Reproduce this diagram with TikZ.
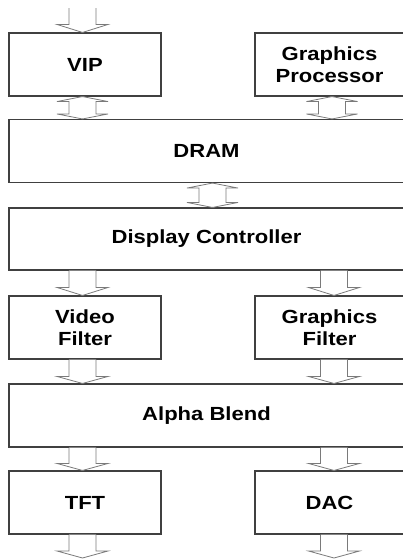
\documentclass[tikz,border=0pt]{standalone}
\usepackage{fontspec}
\newfontfamily\lblfont{Liberation Sans Bold}[FakeStretch=1.16]
\usetikzlibrary{calc}
\definecolor{boxline}{HTML}{404040}
\definecolor{arrline}{HTML}{7A7A7A}
\tikzset{
  box/.style={draw=boxline, line width=1.1pt, fill=white, rectangle,
    minimum height=63pt, inner sep=0pt, align=center,
    font=\lblfont\fontsize{19}{22.5}\selectfont},
  narrow/.style={box, minimum width=152pt},
  wide/.style={box, minimum width=395pt},
  fat/.style={draw=arrline, line width=0.8pt, fill=white, line join=miter}
}
% #1 x, #2 from anchor, #3 to anchor, #4 head height
\newcommand\fatdown[4]{%
  \draw[fat] let \p1=(#2), \p2=(#3) in
    (#1pt-13.5pt,\y1) -- (#1pt-13.5pt,\y2+#4pt) -- (#1pt-25.5pt,\y2+#4pt) --
    (#1pt,\y2) -- (#1pt+25.5pt,\y2+#4pt) -- (#1pt+13.5pt,\y2+#4pt) -- (#1pt+13.5pt,\y1);}
\newcommand\fatboth[4]{%
  \draw[fat] let \p1=(#2), \p2=(#3) in
    (#1pt,\y1) -- (#1pt-25.5pt,\y1-#4pt) -- (#1pt-13.5pt,\y1-#4pt) --
    (#1pt-13.5pt,\y2+#4pt) -- (#1pt-25.5pt,\y2+#4pt) -- (#1pt,\y2) --
    (#1pt+25.5pt,\y2+#4pt) -- (#1pt+13.5pt,\y2+#4pt) -- (#1pt+13.5pt,\y1-#4pt) --
    (#1pt+25.5pt,\y1-#4pt) -- cycle;}
\begin{document}
\begin{tikzpicture}[x=1pt,y=-1pt]
\useasboundingbox[fill=white] (0,0) rectangle (403,560);
\node[narrow] (vip) at (85,64.5) {VIP};
\node[box, minimum width=149pt] (gp) at (329.5,64.5) {Graphics\\Processor};
\node[wide] (dram) at (206.5,151) {DRAM};
\node[wide, minimum height=62pt] (dc) at (206.5,239) {Display Controller};
\node[narrow] (vf) at (85,327.5) {Video\\Filter};
\node[box, minimum width=149pt] (gf) at (329.5,327.5) {Graphics\\Filter};
\node[wide] (ab) at (206.5,415.5) {Alpha Blend};
\node[narrow] (tft) at (85,502.5) {TFT};
\node[box, minimum width=149pt] (dac) at (329.5,502.5) {DAC};
\coordinate (in) at (82.5,8);
\coordinate (outl) at (82.5,558);
\coordinate (outr) at (334,558);
\fatdown{82.5}{in}{vip.north}{8}
\fatboth{82.5}{vip.south}{dram.north}{5}
\fatboth{332}{gp.south}{dram.north}{5}
\fatboth{212.5}{dram.south}{dc.north}{5}
\fatdown{82.5}{dc.south}{vf.north}{8}
\fatdown{334}{dc.south}{gf.north}{8}
\fatdown{82.5}{vf.south}{ab.north}{7}
\fatdown{334}{gf.south}{ab.north}{7}
\fatdown{82.5}{ab.south}{tft.north}{7}
\fatdown{334}{ab.south}{dac.north}{7}
\fatdown{82.5}{tft.south}{outl}{7}
\fatdown{334}{dac.south}{outr}{7}
\end{tikzpicture}
\end{document}
